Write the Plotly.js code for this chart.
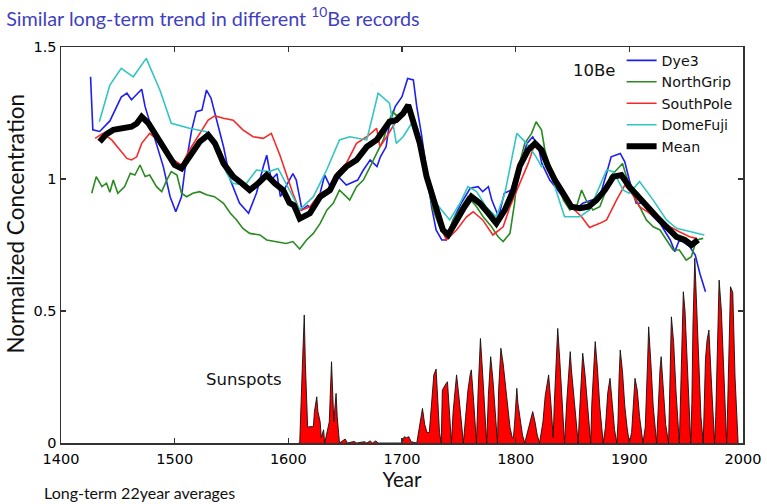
<!DOCTYPE html>
<html>
<head>
<meta charset="utf-8">
<script src="https://cdn.plot.ly/plotly-3.0.1.min.js"></script>
<style>html,body{margin:0;padding:0;background:#fff;}#chart{width:767px;height:504px;}</style>
</head>
<body>
<div id="chart"></div>
<script>
// ---- Data ----
const seriesNames = ["Dye3", "NorthGrip", "SouthPole", "DomeFuji", "Mean"];

const dye3 = [[1426,1.387],[1428,1.186],[1434,1.18],[1443,1.22],[1453,1.31],[1458,1.325],[1462,1.30],[1466,1.318],[1471,1.34],[1474,1.274],[1481,1.174],[1490,1.047],[1496,0.933],[1501,0.876],[1506,0.933],[1509,1.034],[1515,1.186],[1519,1.255],[1524,1.261],[1528,1.337],[1532,1.306],[1537,1.223],[1543,1.122],[1549,0.996],[1557,0.909],[1565,0.87],[1572,0.947],[1578,1.047],[1581,1.09],[1585,0.996],[1590,1.02],[1593,0.933],[1598,0.97],[1604,1.02],[1607,0.996],[1612,0.883],[1617,0.90],[1622,0.883],[1628,0.947],[1632,1.015],[1637,0.97],[1644,1.009],[1651,0.977],[1661,0.996],[1666,1.034],[1672,1.072],[1678,1.047],[1681,1.084],[1686,1.122],[1689,1.211],[1694,1.274],[1700,1.312],[1705,1.381],[1710,1.375],[1713,1.274],[1717,1.173],[1722,1.022],[1726,0.895],[1730,0.807],[1735,0.769],[1739,0.769],[1745,0.845],[1752,0.908],[1760,0.965],[1767,0.971],[1771,0.952],[1776,0.971],[1779,0.92],[1785,0.857],[1790,0.946],[1796,0.958],[1804,1.06],[1810,1.135],[1815,1.16],[1820,1.122],[1823,1.059],[1830,0.996],[1837,0.958],[1845,0.908],[1852,0.883],[1859,0.908],[1867,0.92],[1874,0.933],[1880,1.022],[1884,1.084],[1892,1.097],[1896,1.065],[1900,0.996],[1906,0.908],[1912,0.908],[1918,0.87],[1927,0.832],[1936,0.769],[1940,0.725],[1944,0.769],[1949,0.757],[1953,0.744],[1958,0.712],[1962,0.643],[1967,0.573]];

const northGrip = [[1427,0.946],[1431,1.009],[1436,0.971],[1440,0.984],[1443,0.95],[1446,0.996],[1450,0.946],[1456,0.971],[1461,1.022],[1465,1.015],[1469.5,1.053],[1474,1.009],[1478,1.015],[1484,0.971],[1488.6,0.952],[1493,0.996],[1497,1.028],[1502,1.015],[1506,0.946],[1510.5,0.933],[1516,0.946],[1522,0.952],[1528,0.94],[1535,0.933],[1543,0.908],[1549,0.87],[1554.5,0.845],[1560,0.813],[1566,0.794],[1575,0.788],[1581,0.769],[1590,0.763],[1598,0.756],[1604,0.763],[1610,0.735],[1616,0.769],[1622,0.794],[1628,0.832],[1634,0.883],[1639.5,0.908],[1645,0.958],[1651,0.933],[1654,0.92],[1660,0.971],[1666,0.996],[1672,1.047],[1678,1.097],[1683.5,1.148],[1689,1.223],[1692,1.255],[1695,1.24],[1701,1.255],[1705.5,1.274],[1710,1.21],[1716,1.122],[1721.6,0.996],[1727.4,0.883],[1733,0.819],[1739,0.781],[1745,0.845],[1752,0.895],[1758,0.933],[1765.6,0.895],[1771.4,0.857],[1778.8,0.819],[1784.6,0.781],[1789,0.763],[1795,0.794],[1799,0.908],[1802,1.035],[1808,1.135],[1814,1.173],[1818,1.217],[1822.7,1.186],[1825.7,1.11],[1830,1.047],[1837,0.984],[1842,0.92],[1847.7,0.883],[1853.5,0.895],[1858,0.958],[1862,0.92],[1868,0.883],[1874,0.895],[1878.5,0.946],[1883,1.009],[1888.7,1.034],[1894,1.059],[1897.5,1.009],[1903,0.946],[1909,0.895],[1915,0.845],[1921,0.819],[1927,0.807],[1932.7,0.769],[1938.5,0.731],[1944,0.731],[1950,0.693],[1954.6,0.706],[1959,0.769],[1965,0.775]];

const southPole = [[1430,1.154],[1437,1.173],[1444.6,1.148],[1452,1.11],[1458,1.078],[1462,1.072],[1466.6,1.084],[1471,1.135],[1478,1.173],[1485,1.148],[1490,1.11],[1499,1.072],[1506,1.053],[1513,1.11],[1522,1.173],[1529.5,1.223],[1535.4,1.239],[1543,1.23],[1551.5,1.223],[1560,1.186],[1569,1.16],[1578,1.154],[1585,1.173],[1592.6,1.09],[1600,0.996],[1604,0.946],[1610,0.88],[1619,0.895],[1628,0.946],[1636.6,0.958],[1642.5,1.022],[1651,1.059],[1660,1.135],[1669,1.16],[1677.7,1.192],[1680.6,1.122],[1686.5,1.16],[1693.7,1.211],[1701,1.249],[1705.5,1.274],[1710,1.211],[1715.7,1.11],[1721.6,0.996],[1730.4,0.857],[1739,0.769],[1748,0.807],[1756.8,0.857],[1762.6,0.876],[1771,0.845],[1780,0.788],[1789,0.819],[1795,0.895],[1803.7,0.984],[1811,1.059],[1815.4,1.116],[1820,1.13],[1824,1.084],[1833,0.996],[1841.8,0.933],[1849,0.895],[1858,0.857],[1865,0.816],[1874,0.832],[1880,0.845],[1888.7,0.92],[1896,0.977],[1903,0.94],[1909,0.895],[1918,0.87],[1927,0.845],[1935.6,0.819],[1944,0.8],[1953,0.781],[1959,0.775]];

const domeFuji = [[1433.7,1.217],[1443,1.356],[1453,1.419],[1463.6,1.387],[1475,1.457],[1487,1.337],[1497,1.211],[1513,1.192],[1528,1.179],[1537,1.11],[1545.7,1.022],[1551,0.984],[1562,0.977],[1572,1.034],[1583,1.028],[1591,1.04],[1601,0.958],[1610,0.883],[1622,0.933],[1633.7,1.034],[1645,1.148],[1654,1.16],[1669,1.148],[1679,1.325],[1689,1.287],[1695,1.135],[1701,1.16],[1708.5,1.211],[1714,1.148],[1721.6,0.996],[1730,0.908],[1742,0.845],[1751,0.908],[1758,0.971],[1765.6,0.952],[1774,0.895],[1783,0.857],[1790.5,0.946],[1801,1.173],[1809.6,1.135],[1818,1.084],[1822.7,1.047],[1828.6,1.065],[1834.5,0.971],[1843,0.857],[1856.5,0.857],[1865,0.883],[1874,0.971],[1880,1.034],[1886,1.028],[1894.6,0.958],[1900,0.946],[1909,0.99],[1921,0.92],[1932.7,0.845],[1941.5,0.813],[1953,0.8],[1966,0.788]];

const meanSeries = [[1434,1.141],[1440,1.17],[1446,1.186],[1455,1.192],[1462,1.198],[1466.6,1.21],[1471,1.236],[1477,1.211],[1484,1.16],[1493,1.097],[1500,1.053],[1506,1.04],[1513,1.084],[1522,1.141],[1529.5,1.167],[1535.4,1.135],[1543,1.059],[1551.5,1.009],[1559,0.984],[1566,0.958],[1573.5,0.984],[1581,1.015],[1588,0.984],[1595.5,0.958],[1601,0.91],[1605,0.9],[1610,0.85],[1619,0.87],[1628,0.933],[1636.6,0.958],[1642.5,1.009],[1651,1.047],[1660,1.072],[1669,1.122],[1677.7,1.148],[1683.5,1.179],[1689,1.217],[1695,1.223],[1701,1.249],[1705.5,1.28],[1710,1.223],[1715.7,1.135],[1721.6,1.009],[1729,0.895],[1736,0.807],[1740.6,0.788],[1748,0.845],[1755,0.895],[1761,0.933],[1768.5,0.908],[1776,0.87],[1783,0.832],[1790.5,0.883],[1798,0.958],[1803.7,1.05],[1811,1.11],[1817,1.135],[1822.7,1.11],[1828.6,1.047],[1834.5,0.996],[1841.8,0.946],[1849,0.895],[1856.5,0.889],[1864,0.895],[1871,0.92],[1878.5,0.958],[1886,1.009],[1893,1.015],[1900,0.971],[1907.7,0.933],[1915,0.895],[1924,0.857],[1932.7,0.819],[1941.5,0.781],[1948.8,0.769],[1954.7,0.75],[1960.5,0.769]];

const sunspots = [[1609,0],[1610,0],[1612,0.25],[1614,0.485],[1615,0.3],[1616,0.15],[1617,0.06],[1619,0.062],[1622,0.062],[1623,0.12],[1625,0.175],[1626,0.12],[1628,0.08],[1629,0.02],[1631,0.05],[1632,0],[1636,0.08],[1638,0.308],[1639,0.15],[1640,0.08],[1642,0.188],[1643,0.1],[1645,0],[1650,0.015],[1652,0],[1658,0.006],[1660,0],[1667,0.005],[1669,0],[1672,0.008],[1674,0],[1677,0.008],[1679,0],[1700,0],[1702,0.024],[1704,0.02],[1706,0.024],[1708,0.005],[1713,0],[1716,0.09],[1718,0.131],[1720,0.07],[1722,0.04],[1724,0.04],[1726,0.15],[1728,0.258],[1730,0.28],[1731,0.18],[1733,0.04],[1734.5,0],[1735.5,0.2],[1738,0.22],[1740,0.232],[1742,0.1],[1743.5,0],[1745,0.12],[1747,0.22],[1748,0.258],[1750,0.18],[1752,0.08],[1754,0],[1756,0.1],[1758,0.2],[1760,0.26],[1761,0.277],[1763,0.16],[1765.5,0],[1767,0.2],[1768,0.3],[1769,0.396],[1771,0.26],[1773,0.12],[1774.5,0],[1776,0.18],[1777,0.27],[1778,0.327],[1780,0.24],[1782,0.12],[1784,0],[1785,0.2],[1787,0.359],[1789,0.3],[1791,0.22],[1793,0.13],[1795,0.06],[1797,0.02],[1798,0.02],[1799,0.07],[1801,0.207],[1802,0.15],[1804,0.08],[1806,0.03],[1808,0],[1811,0.05],[1813,0.09],[1815,0.119],[1817,0.08],[1819,0.03],[1821,0],[1824,0.08],[1826,0.18],[1829,0.258],[1831,0.15],[1833,0.02],[1834,0.15],[1836,0.36],[1837,0.434],[1839,0.3],[1841,0.14],[1843,0],[1845,0.16],[1847,0.3],[1848,0.346],[1849,0.28],[1850,0.23],[1852,0.12],[1855,0],[1856,0.1],[1858,0.28],[1859,0.34],[1861,0.26],[1863,0.15],[1865,0.05],[1866,0],[1867,0.15],[1869,0.33],[1870,0.384],[1872,0.28],[1874,0.14],[1877,0],[1879,0.06],[1881,0.19],[1883,0.245],[1885,0.15],[1887,0.05],[1889,0],[1890,0.08],[1891,0.25],[1892,0.352],[1894,0.27],[1896,0.14],[1898,0.06],[1900,0],[1902,0.04],[1904,0.19],[1905,0.245],[1907,0.2],[1909,0.1],[1912,0],[1914,0.06],[1916,0.3],[1917,0.44],[1919,0.3],[1921,0.14],[1924,0],[1925,0.12],[1927,0.28],[1928,0.327],[1930,0.2],[1932,0.07],[1934.5,0],[1936,0.28],[1937,0.478],[1939,0.38],[1941,0.2],[1944,0],[1945,0.15],[1946,0.38],[1947.5,0.573],[1949,0.5],[1951,0.3],[1954,0],[1955,0.15],[1956,0.45],[1957.6,0.70],[1959,0.55],[1961,0.3],[1963,0.1],[1965,0],[1966,0.15],[1967,0.32],[1968.4,0.39],[1970,0.428],[1972,0.25],[1975,0],[1976,0.1],[1978,0.45],[1979,0.617],[1981,0.5],[1983,0.25],[1985.6,0],[1986,0.05],[1988,0.4],[1989,0.592],[1991,0.57],[1993,0.25],[1995.7,0]];

const xTickVals = [1400, 1500, 1600, 1700, 1800, 1900, 2000];
const yTickVals = [0, 0.5, 1, 1.5];
const yTickText = ["0", "0.5", "1", "1.5"];

// ---- Build traces ----
const colX = a => a.map(p => p[0]);
const colY = a => a.map(p => p[1]);

const records = [dye3, northGrip, southPole, domeFuji, meanSeries];
const colors = ["#1f1ff0", "#2a8a22", "#f52a2a", "#33c6c0", "#000000"];
const widths = [1.6, 1.6, 1.6, 1.6, 6];

const traces = [{
  x: colX(sunspots), y: colY(sunspots), type: "scatter", mode: "lines",
  fill: "tozeroy", fillcolor: "#ff0000",
  line: {color: "#111111", width: 0.9}, showlegend: false, hoverinfo: "skip"
}];
records.forEach((r, i) => {
  traces.push({
    x: colX(r), y: colY(r), type: "scatter", mode: "lines", name: seriesNames[i],
    line: {color: colors[i], width: widths[i]}
  });
});

const axisFont = {family: "DejaVu Sans", size: 14.5, color: "#000"};

const layout = {
  width: 767, height: 504,
  margin: {l: 61, r: 24, t: 47, b: 61, pad: 0},
  paper_bgcolor: "#ffffff", plot_bgcolor: "#ffffff",
  title: {
    text: "Similar long-term trend in different <sup>10</sup>Be records",
    font: {family: "Lato", size: 19.8, color: "#3f3fbf"},
    xref: "container", yref: "container", x: 0.008, xanchor: "left", y: 0.963, yanchor: "middle"
  },
  xaxis: {
    range: [1400, 2000], tickvals: xTickVals, ticktext: xTickVals.map(String),
    ticks: "inside", ticklen: 5, tickwidth: 1.3, tickcolor: "#333",
    showline: true, linecolor: "#333", linewidth: 1.5, mirror: "ticks",
    showgrid: false, zeroline: false, tickfont: axisFont, ticklabelstandoff: 2,
    title: {text: "Year", font: {family: "Lato", size: 20.5, color: "#111"}, standoff: 4}
  },
  yaxis: {
    range: [0, 1.5], tickvals: yTickVals, ticktext: yTickText,
    ticks: "inside", ticklen: 5, tickwidth: 1.3, tickcolor: "#333",
    showline: true, linecolor: "#333", linewidth: 1.5, mirror: "ticks",
    showgrid: false, zeroline: false, tickfont: axisFont
  },
  legend: {
    x: 0.822, xanchor: "left", y: 1.006, yanchor: "top",
    bgcolor: "rgba(255,255,255,0)", borderwidth: 0,
    font: {family: "DejaVu Sans", size: 14.2, color: "#111"},
    itemwidth: 30, tracegroupgap: 0
  },
  annotations: [
    {text: "10Be", x: 1869, y: 1.41, xref: "x", yref: "y", showarrow: false,
     font: {family: "DejaVu Sans", size: 16.5, color: "#111"}},
    {text: "Sunspots", x: 1561, y: 0.239, xref: "x", yref: "y", showarrow: false,
     font: {family: "DejaVu Sans", size: 16.5, color: "#111"}},
    {text: "Normalized Concentration", textangle: -90, xref: "paper", yref: "paper",
     x: -0.067, y: 0.555, xanchor: "center", yanchor: "middle", showarrow: false,
     font: {family: "Lato", size: 22.5, color: "#111"}},
    {text: "Long-term 22year averages", xref: "paper", yref: "paper",
     x: -0.028, y: -0.124, xanchor: "left", yanchor: "middle", showarrow: false,
     font: {family: "Lato", size: 16, color: "#111"}}
  ],
  showlegend: true
};

Plotly.newPlot("chart", traces, layout, {staticPlot: true, displayModeBar: false});
</script>
</body>
</html>
